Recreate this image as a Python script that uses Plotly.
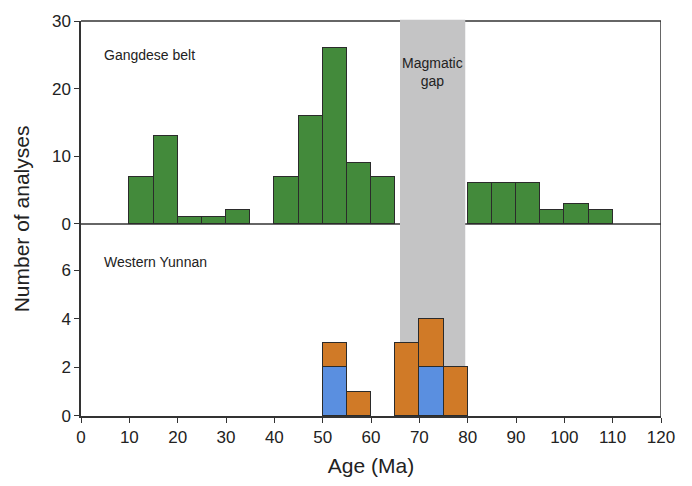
import plotly.graph_objects as go

# Data
bin_width = 5
gangdese_bins = [10, 15, 20, 25, 30, 40, 45, 50, 55, 60, 80, 85, 90, 95, 100, 105]
gangdese_counts = [7, 13, 1, 1, 2, 7, 16, 26, 9, 7, 6, 6, 6, 2, 3, 2]

yunnan_bins = [50, 55, 65, 70, 75]
yunnan_blue = [2, 0, 0, 2, 0]
yunnan_orange = [1, 1, 3, 2, 2]

gap_start, gap_end = 66, 79.5

x_ticks = list(range(0, 121, 10))
top_ticks = [0, 10, 20, 30]
bottom_ticks = [0, 2, 4, 6]

GREEN = "#438a3b"
ORANGE = "#d07a27"
BLUE = "#5a8fe0"
GRAY = "#c4c4c5"
EDGE = "#2b2b2b"
FONT = "Liberation Sans, Arial, sans-serif"

def centers(bins):
    return [b + bin_width / 2 for b in bins]

fig = go.Figure()

fig.add_trace(go.Bar(x=centers(gangdese_bins), y=gangdese_counts, width=bin_width,
                     marker=dict(color=GREEN, line=dict(color=EDGE, width=1)),
                     xaxis="x", yaxis="y2", showlegend=False))
fig.add_trace(go.Bar(x=centers(yunnan_bins), y=yunnan_blue, width=bin_width,
                     marker=dict(color=BLUE, line=dict(color=EDGE, width=1)),
                     xaxis="x", yaxis="y", showlegend=False))
fig.add_trace(go.Bar(x=centers(yunnan_bins), y=yunnan_orange, width=bin_width,
                     marker=dict(color=ORANGE, line=dict(color=EDGE, width=1)),
                     xaxis="x", yaxis="y", showlegend=False))

split = 195 / 401

axis_common = dict(showgrid=False, zeroline=False, ticks="outside", ticklen=5,
                   tickwidth=1.3, tickcolor="#333", linecolor="#333", linewidth=1.5,
                   tickfont=dict(family=FONT, size=17, color="#222"))

fig.update_layout(
    width=692, height=486,
    margin=dict(l=81, r=31, t=15, b=66),
    paper_bgcolor="white", plot_bgcolor="white",
    barmode="stack", bargap=0,
    xaxis=dict(range=[0, 120], tickvals=x_ticks, showline=True, anchor="y",
               title=dict(text="Age (Ma)", font=dict(family=FONT, size=21, color="#222"), standoff=12),
               **axis_common),
    yaxis=dict(domain=[0, split], range=[0, 7.9], tickvals=bottom_ticks, showline=True,
               anchor="x", **axis_common),
    yaxis2=dict(domain=[split, 1], range=[0, 30], tickvals=top_ticks, showline=True,
                anchor="x", **axis_common),
    font=dict(family=FONT),
)

# frame and divider (below traces), then gap band on top of lines but under bars
fig.add_shape(type="line", xref="x", yref="paper", x0=0, x1=120, y0=1, y1=1,
              line=dict(color="#333", width=1.5), layer="below")
fig.add_shape(type="line", xref="x", yref="paper", x0=120, x1=120, y0=0, y1=1,
              line=dict(color="#333", width=1.5), layer="below")
fig.add_shape(type="line", xref="x", yref="paper", x0=0, x1=120, y0=split, y1=split,
              line=dict(color="#333", width=1.5), layer="below")
fig.add_shape(type="rect", xref="x", yref="paper", x0=gap_start, x1=gap_end, y0=0, y1=1.003,
              fillcolor=GRAY, line=dict(width=0), layer="below")

fig.add_annotation(x=0.037, y=0.913, xref="paper", yref="paper", text="Gangdese belt",
                   showarrow=False, xanchor="left", yanchor="middle",
                   font=dict(family=FONT, size=14, color="#222"))
fig.add_annotation(x=0.037, y=0.39, xref="paper", yref="paper", text="Western Yunnan",
                   showarrow=False, xanchor="left", yanchor="middle",
                   font=dict(family=FONT, size=14, color="#222"))
fig.add_annotation(x=(gap_start + gap_end) / 2, y=0.872, xref="x", yref="paper",
                   text="Magmatic<br>gap", showarrow=False, xanchor="center", yanchor="middle",
                   font=dict(family=FONT, size=14, color="#222"))

fig.add_annotation(x=-0.102, y=0.5, xref="paper", yref="paper", text="Number of analyses",
                   textangle=-90, showarrow=False, xanchor="center", yanchor="middle",
                   font=dict(family=FONT, size=21, color="#222"))

fig.write_html("out.html")
